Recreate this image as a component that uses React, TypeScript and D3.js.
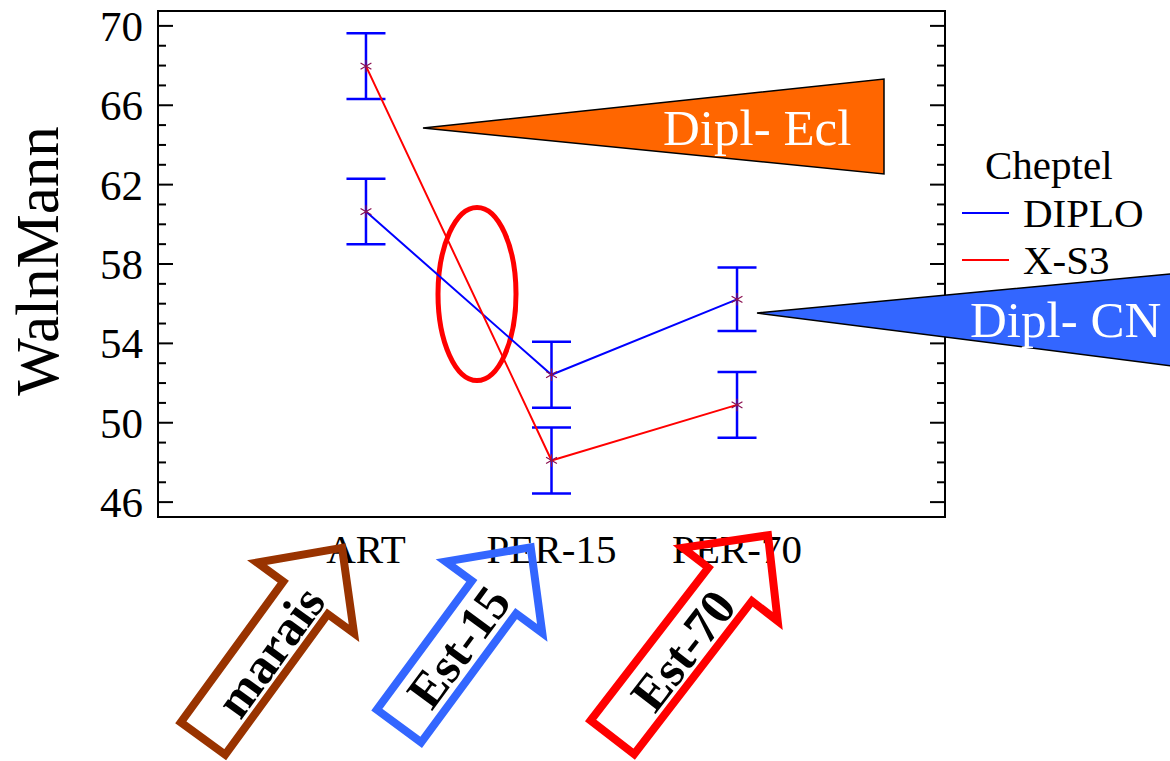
import * as d3 from "d3";

const W = 1170;
const H = 761;

// data
const categories = ["ART", "PER-15", "PER-70"];
const diploMean = [60.64, 52.42, 56.22];
const diploErr = [1.65, 1.66, 1.6];
const xs3Mean = [67.97, 48.1, 50.9];
const xs3Err = [1.66, 1.66, 1.66];
const yTicks = [46, 50, 54, 58, 62, 66, 70];
const legendLabels = ["DIPLO", "X-S3"];
const seriesColors = ["#0000ff", "#ff0000"];

const plot = { left: 158, right: 945, top: 11, bottom: 517 };
const font = "'Liberation Serif', 'Times New Roman', serif";

const x = d3
  .scalePoint()
  .domain(categories)
  .range([plot.left, plot.right])
  .padding(1.121);
const y = d3.scaleLinear().domain([45.25, 70.75]).range([plot.bottom, plot.top]);

const minorTicks = d3.range(46, 71).filter((v) => !yTicks.includes(v));

const line = d3
  .line<number>()
  .x((_, i) => x(categories[i]) as number)
  .y((d) => y(d));

const star = d3.symbol(d3.symbolAsterisk).size(110);

function ErrorBars({ means, errs }: { means: number[]; errs: number[] }) {
  return (
    <g stroke="#0000ff" strokeWidth={2.5}>
      {means.map((m, i) => {
        const cx = x(categories[i]) as number;
        const y0 = y(m + errs[i]);
        const y1 = y(m - errs[i]);
        return (
          <g key={i}>
            <line x1={cx} x2={cx} y1={y0} y2={y1} />
            <line x1={cx - 19.5} x2={cx + 19.5} y1={y0} y2={y0} />
            <line x1={cx - 19.5} x2={cx + 19.5} y1={y1} y2={y1} />
          </g>
        );
      })}
    </g>
  );
}

function BlockArrow({ tx, ty, angle, len, color, label, along, perp }: any) {
  const sw = 55;
  const hw = 120;
  const hl = 62;
  const pts = [
    [0, -sw / 2],
    [len - hl, -sw / 2],
    [len - hl, -hw / 2],
    [len, 0],
    [len - hl, hw / 2],
    [len - hl, sw / 2],
    [0, sw / 2],
  ];
  return (
    <g transform={`translate(${tx},${ty}) rotate(${angle})`}>
      <polygon
        points={pts.map((p) => p.join(",")).join(" ")}
        fill="none"
        stroke={color}
        strokeWidth={8}
        strokeLinejoin="miter"
        strokeMiterlimit={10}
      />
      <text
        x={along}
        y={perp}
        textAnchor="middle"
        dominantBaseline="central"
        fontFamily={font}
        fontWeight="bold"
        fontSize={50}
        fill="#000"
      >
        {label}
      </text>
    </g>
  );
}

export default function App() {
  return (
    <svg
      width={W}
      height={H}
      style={{ position: "absolute", left: 0, top: 0, display: "block", background: "#fff" }}
    >
      <rect width={W} height={H} fill="#fff" />

      {/* axis title */}
      <text
        transform={`translate(58,261) rotate(-90)`}
        textAnchor="middle"
        fontFamily={font}
        fontSize={61}
      >
        WalnMann
      </text>

      {/* y tick labels */}
      {yTicks.map((t) => (
        <text
          key={t}
          x={143}
          y={y(t) + 15}
          textAnchor="end"
          fontFamily={font}
          fontSize={43}
        >
          {t}
        </text>
      ))}

      {/* x tick labels */}
      {categories.map((c) => (
        <text
          key={c}
          x={x(c) as number}
          y={563}
          textAnchor="middle"
          fontFamily={font}
          fontSize={41}
        >
          {c}
        </text>
      ))}

      {/* ticks, both sides, pointing inward */}
      <g stroke="#000" strokeWidth={2}>
        {yTicks.map((t) => (
          <g key={t}>
            <line x1={plot.left} x2={plot.left + 15} y1={y(t)} y2={y(t)} />
            <line x1={plot.right} x2={plot.right - 15} y1={y(t)} y2={y(t)} />
          </g>
        ))}
        {minorTicks.map((t) => (
          <g key={t}>
            <line x1={plot.left} x2={plot.left + 8} y1={y(t)} y2={y(t)} />
            <line x1={plot.right} x2={plot.right - 8} y1={y(t)} y2={y(t)} />
          </g>
        ))}
      </g>
      <rect
        x={plot.left}
        y={plot.top}
        width={plot.right - plot.left}
        height={plot.bottom - plot.top}
        fill="none"
        stroke="#000"
        strokeWidth={2}
      />

      {/* highlight ellipse */}
      <ellipse cx={477} cy={294} rx={39} ry={86.5} fill="none" stroke="#ff0000" strokeWidth={5} />

      {/* error bars */}
      <ErrorBars means={diploMean} errs={diploErr} />
      <ErrorBars means={xs3Mean} errs={xs3Err} />

      {/* series lines */}
      <path d={line(diploMean) || ""} fill="none" stroke={seriesColors[0]} strokeWidth={2} />
      <path d={line(xs3Mean) || ""} fill="none" stroke={seriesColors[1]} strokeWidth={2} />

      {/* markers */}
      {[diploMean, xs3Mean].map((s, si) =>
        s.map((m, i) => (
          <path
            key={`${si}-${i}`}
            d={star() || ""}
            transform={`translate(${x(categories[i])},${y(m)})`}
            fill="none"
            stroke="#8b1050"
            strokeWidth={1.2}
          />
        ))
      )}

      {/* legend */}
      <text x={985} y={179} fontFamily={font} fontSize={41}>
        Cheptel
      </text>
      {legendLabels.map((l, i) => (
        <g key={l}>
          <line
            x1={962}
            x2={1009}
            y1={213 + i * 47}
            y2={213 + i * 47}
            stroke={seriesColors[i]}
            strokeWidth={2.2}
          />
          <text x={1023} y={227 + i * 47} fontFamily={font} fontSize={41}>
            {l}
          </text>
        </g>
      ))}

      {/* callouts */}
      <polygon
        points="423,128 884,79 884,174"
        fill="#ff6600"
        stroke="#000"
        strokeWidth={1.5}
      />
      <text x={663} y={145} fontFamily={font} fontSize={51} fill="#fff">
        Dipl- Ecl
      </text>
      <polygon
        points="757,313 1180,273 1180,367"
        fill="#3366ff"
        stroke="#000"
        strokeWidth={1.5}
      />
      <text x={970} y={337} fontFamily={font} fontSize={51} fill="#fff">
        Dipl- CN
      </text>

      {/* arrows */}
      <BlockArrow tx={203} ty={738.5} angle={-53.9} len={236} color="#993300" label="marais" along={110} perp={3} />
      <BlockArrow tx={399} ty={726} angle={-53.6} len={222} color="#3366ff" label="Est-15" along={99} perp={1} />
      <BlockArrow tx={612.4} ty={737.3} angle={-52.4} len={255} color="#ff0000" label="Est-70" along={112} perp={3} />
    </svg>
  );
}
